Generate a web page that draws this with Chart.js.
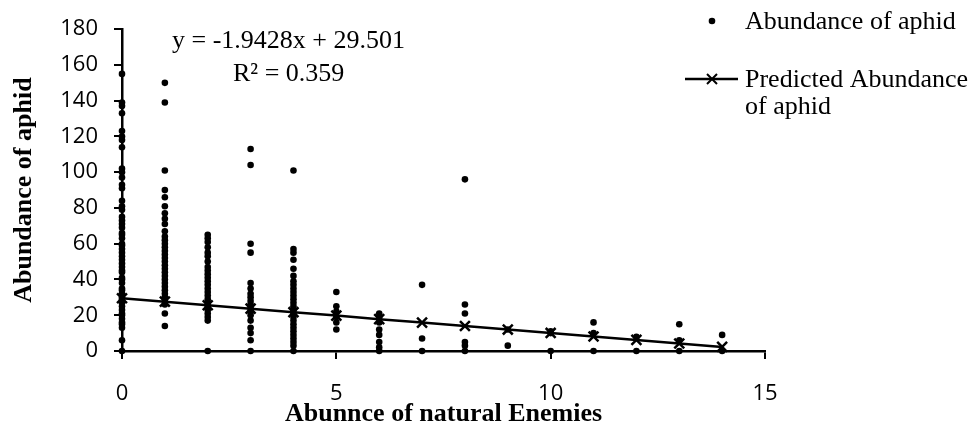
<!DOCTYPE html>
<html>
<head>
<meta charset="utf-8">
<script src="https://cdn.jsdelivr.net/npm/chart.js@4.4.1/dist/chart.umd.min.js"></script>
<style>
  html, body { margin: 0; padding: 0; background: #fff; }
  #wrap { width: 973px; height: 427px; position: relative; }
</style>
</head>
<body>
<div id="wrap"><canvas id="chart"></canvas></div>
<script>
// number of natural enemies (x)
const enemies = [0, 1, 2, 3, 4, 5, 6, 7, 8, 9, 10, 11, 12, 13, 14];

const aphidAt0 = [155, 139, 137, 133, 123, 120, 118, 114, 102, 100, 97, 93, 91, 84, 81, 79, 75, 73, 71, 69, 66, 65, 63, 60, 59, 57, 55, 53, 51, 49, 47, 45, 44, 41, 40, 38, 35, 34, 32, 30, 29, 27, 25, 23, 21, 20, 18, 16, 15, 13, 6, 0];
const aphidAt1 = [150, 139, 101, 90, 86, 81, 77, 74, 71, 67, 64, 62, 60, 58, 56, 54, 52, 50, 48, 46, 44, 42, 40, 38, 36, 34, 32, 30, 28, 26, 21, 14];
const aphidAt2 = [65, 63, 61, 58, 55, 53, 50, 47, 45, 43, 41, 39, 37, 35, 33, 31, 29, 27, 25, 23, 21, 19, 17, 0];
const aphidAt3 = [113, 104, 60, 55, 38, 35, 32, 30, 28, 26, 24, 22, 20, 17, 13, 10, 6, 0];
const aphidAt4 = [101, 57, 55, 51, 46, 42, 39, 37, 35, 33, 31, 29, 27, 25, 23, 21, 19, 17, 15, 13, 11, 9, 7, 5, 3, 0];
const aphidAt5 = [33, 25, 22, 19, 16, 12];
const aphidAt6 = [21, 19, 16, 12, 9, 5, 2, 0];
const aphidAt7 = [37, 7, 0];
const aphidAt8 = [96, 26, 21, 5, 3, 0];
const aphidAt9 = [12, 3];
const aphidAt10 = [11, 10, 0];
const aphidAt11 = [16, 10, 0];
const aphidAt12 = [8, 0];
const aphidAt13 = [15, 6, 0];
const aphidAt14 = [9, 0];
const observed = [aphidAt0, aphidAt1, aphidAt2, aphidAt3, aphidAt4, aphidAt5, aphidAt6, aphidAt7,
                  aphidAt8, aphidAt9, aphidAt10, aphidAt11, aphidAt12, aphidAt13, aphidAt14];

// predicted abundance (trend markers)
const predicted = [29.5, 27.6, 25.6, 23.7, 21.7, 19.8, 17.8, 15.9, 14.0, 12.0, 10.1, 8.1, 6.2, 4.2, 2.3];

const xTicks = [0, 5, 10, 15];
const yTicks = [0, 20, 40, 60, 80, 100, 120, 140, 160, 180];

const equation = "y = -1.9428x + 29.501";
const rSquared = "R\u00b2 = 0.359";
const seriesNames = ["Abundance of aphid", "Predicted Abundance", "of aphid"];

const serif = '"Liberation Serif", "Times New Roman", serif';
const sans = '"Open Sans", sans-serif';

const observedPoints = [];
enemies.forEach((e, i) => {
    observed[i].forEach(v => observedPoints.push({ x: e, y: v }));
});
const predictedPoints = enemies.map((e, i) => ({ x: e, y: predicted[i] }));

// text on the plot + legend on the right
const overlay = {
    id: 'overlay',
    afterDraw(chart) {
        const ctx = chart.ctx;
        ctx.save();
        ctx.fillStyle = '#000';
        ctx.strokeStyle = '#000';
        ctx.font = '26px ' + serif;
        ctx.textBaseline = 'alphabetic';
        ctx.textAlign = 'left';
        ctx.fillText(equation, 172, 48);
        ctx.fillText(rSquared, 233, 81);

        // legend: dot
        ctx.beginPath();
        ctx.arc(712, 21, 3.3, 0, Math.PI * 2);
        ctx.fill();
        ctx.fillText(seriesNames[0], 745, 29);

        // legend: line with cross
        ctx.lineWidth = 2.5;
        ctx.beginPath();
        ctx.moveTo(685, 79);
        ctx.lineTo(738, 79);
        ctx.stroke();
        ctx.lineWidth = 2;
        ctx.beginPath();
        ctx.moveTo(707, 74); ctx.lineTo(717, 84);
        ctx.moveTo(717, 74); ctx.lineTo(707, 84);
        ctx.stroke();
        ctx.fillText(seriesNames[1], 745, 87);
        ctx.fillText(seriesNames[2], 745, 114);
        ctx.restore();
    }
};

new Chart(document.getElementById('chart'), {
    type: 'scatter',
    data: {
        datasets: [
            {
                label: 'Predicted Abundance of aphid',
                data: predictedPoints,
                showLine: true,
                borderColor: '#000',
                backgroundColor: '#000',
                borderWidth: 2.5,
                pointStyle: 'crossRot',
                pointRadius: 7,
                pointBorderWidth: 2.5,
                order: 0,
                clip: false
            },
            {
                label: 'Abundance of aphid',
                data: observedPoints,
                backgroundColor: '#000',
                borderColor: '#000',
                pointRadius: 3.3,
                pointBorderWidth: 0,
                order: 1,
                clip: false
            }
        ]
    },
    options: {
        responsive: true,
        maintainAspectRatio: false,
        animation: false,
        devicePixelRatio: 1,
        layout: { padding: { top: 21, right: 208, bottom: 0, left: 0 } },
        plugins: {
            legend: { display: false },
            tooltip: { enabled: false }
        },
        scales: {
            x: {
                type: 'linear',
                min: 0,
                max: 15,
                afterFit(scale) { scale.height = 76; },
                afterBuildTicks(scale) { scale.ticks = xTicks.map(v => ({ value: v })); },
                border: { display: true, color: '#000', width: 2.5 },
                grid: { drawOnChartArea: false, drawTicks: true, tickLength: 8, color: '#000', lineWidth: 2 },
                ticks: { color: '#000', font: { family: sans, size: 22 }, padding: 22, maxRotation: 0 },
                title: {
                    display: true,
                    text: 'Abunnce of natural Enemies',
                    color: '#000',
                    font: { family: serif, size: 26, weight: 'bold', lineHeight: 1 },
                    padding: { top: 0, bottom: 0 }
                }
            },
            y: {
                type: 'linear',
                min: 0,
                max: 180,
                afterFit(scale) { scale.width = 122; },
                afterBuildTicks(scale) { scale.ticks = yTicks.map(v => ({ value: v })); },
                border: { display: true, color: '#000', width: 2.5 },
                grid: { drawOnChartArea: false, drawTicks: true, tickLength: 8, color: '#000', lineWidth: 2 },
                ticks: { color: '#000', font: { family: sans, size: 22 }, padding: 16 },
                title: {
                    display: true,
                    text: 'Abundance of aphid',
                    color: '#000',
                    font: { family: serif, size: 26, weight: 'bold', lineHeight: 1 },
                    padding: { top: 11, bottom: 0 }
                }
            }
        }
    },
    plugins: [overlay]
});
</script>
</body>
</html>
